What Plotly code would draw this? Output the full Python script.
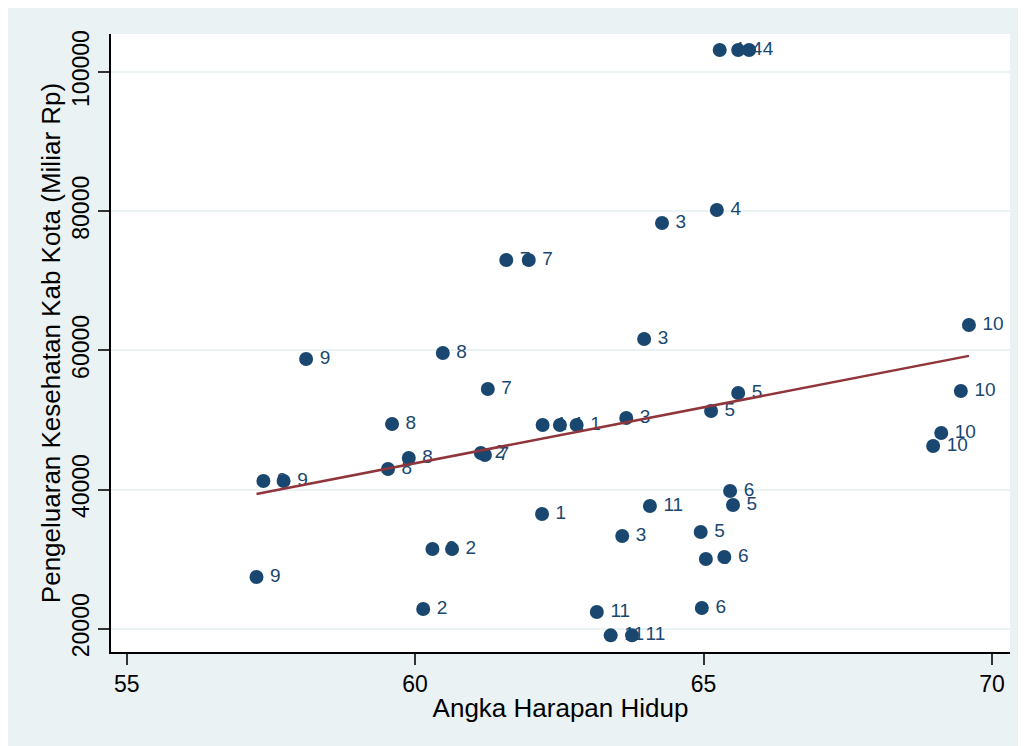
import numpy as np
import plotly.graph_objects as go

# Data (marker label = group id)
labels = [4, 4, 4, 4, 3, 3, 3, 3, 7, 7, 7, 7, 10, 10, 10, 10, 9, 9, 9, 9, 8, 8, 8, 8,
          5, 5, 5, 5, 1, 1, 1, 1, 2, 2, 2, 2, 6, 6, 6, 6, 11, 11, 11, 11]
ahh = [65.28, 65.60, 65.79, 65.23,
       64.28, 63.97, 63.66, 63.59,
       61.58, 61.97, 61.26, 61.21,
       69.60, 69.46, 69.12, 68.98,
       58.11, 57.37, 57.72, 57.25,
       60.48, 59.60, 59.89, 59.53,
       65.60, 65.13, 65.51, 64.95,
       62.21, 62.51, 62.80, 62.20,
       61.14, 60.30, 60.64, 60.14,
       65.46, 65.04, 65.36, 64.97,
       64.07, 63.15, 63.39, 63.76]
pengeluaran = [103161, 103161, 103161, 80169,
               78301, 61632, 50280, 33323,
               72984, 72984, 54447, 44963,
               63644, 54160, 48125, 46257,
               58758, 41226, 41226, 27431,
               59620, 49418, 44531, 42950,
               53872, 51286, 37778, 33898,
               49274, 49274, 49274, 36485,
               45250, 31455, 31455, 22833,
               39790, 30017, 30304, 22977,
               37634, 22402, 19045, 19045]
x_ticks = [55, 60, 65, 70]
y_ticks = [20000, 40000, 60000, 80000, 100000]

NAVY = "#1a476f"
MAROON = "#90353b"
BG = "#eaf2f3"
FONT = "Liberation Sans, Arial, sans-serif"

fig = go.Figure()

order = np.argsort(ahh, kind="stable")
for i in order:
    fig.add_trace(go.Scatter(
        x=[ahh[i]], y=[pengeluaran[i]], mode="markers+text",
        text=["\u2009" + str(labels[i])], textposition="middle right",
        textfont=dict(family=FONT, size=19, color=NAVY),
        marker=dict(size=14, color=NAVY, line=dict(width=0)),
        showlegend=False, hoverinfo="skip"))

# linear fit
xa = np.array(ahh, dtype=float)
ya = np.array(pengeluaran, dtype=float)
b, a = np.polyfit(xa, ya, 1)
fx = np.array([xa.min(), xa.max()])
fig.add_trace(go.Scatter(x=fx, y=a + b * fx, mode="lines",
                         line=dict(color=MAROON, width=2.5),
                         showlegend=False, hoverinfo="skip"))

W, H = 1018, 738
L, R, T, B = 103, 16, 26, 94

fig.update_layout(
    width=W, height=H,
    margin=dict(l=L, r=R, t=T, b=B, autoexpand=False),
    paper_bgcolor=BG, plot_bgcolor="white",
    font=dict(family=FONT, color="black"),
    xaxis=dict(range=[54.728, 70.312], tickvals=x_ticks, ticks="outside", ticklen=11,
               tickwidth=1.5, tickcolor="#333", showline=True, linecolor="black", linewidth=1.5,
               showgrid=False, zeroline=False, tickfont=dict(size=23),
               title=dict(text="Angka Harapan Hidup", font=dict(size=26), standoff=2)),
    yaxis=dict(range=[16652, 105461], tickvals=y_ticks, ticktext=[str(v) for v in y_ticks],
               ticks="outside", ticklen=11, tickwidth=1.5, tickcolor="#333",
               showline=True, linecolor="black", linewidth=1.5,
               showgrid=True, gridcolor=BG, gridwidth=2, zeroline=False,
               tickangle=-90, tickfont=dict(size=23),
               title=dict(text="Pengeluaran Kesehatan Kab Kota (Miliar Rp)", font=dict(size=26),
                          standoff=0)),
)

fig.write_html("out.html")
